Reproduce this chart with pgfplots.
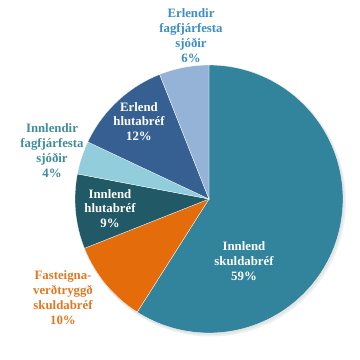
\documentclass[border=0pt]{standalone}
\usepackage{pgfplots}
\pgfplotsset{compat=1.18}
\usepackage{fontspec}
\setmainfont{Liberation Serif}
\definecolor{cA}{HTML}{31849B}
\definecolor{cB}{HTML}{E46C0A}
\definecolor{cC}{HTML}{215967}
\definecolor{cD}{HTML}{92CDDC}
\definecolor{cE}{HTML}{376092}
\definecolor{cF}{HTML}{95B3D7}
\definecolor{tF}{HTML}{3A8DC5}
\definecolor{tD}{HTML}{3F8C9A}
\definecolor{tB}{HTML}{E07820}
% slice: colour, cumulative percent before, percent
\newcommand{\slice}[3]{\fill[#1, draw=white, line width=0.3pt] (axis cs:209,161) -- ++({90-3.6*(#2)}:134pt) arc[start angle={90-3.6*(#2)}, delta angle={-3.6*(#3)}, radius=134pt] -- cycle;}
\begin{document}
\begin{tikzpicture}
\begin{axis}[
  scale only axis, width=360pt, height=360pt,
  xmin=0, xmax=360, ymin=0, ymax=360,
  hide axis, clip=false,
]
\fill[black!6] (axis cs:211,158.5) circle[radius=135pt];
\fill[black!10] (axis cs:210,159.5) circle[radius=134.5pt];
\slice{cA}{0}{59}
\slice{cB}{59}{10}
\slice{cC}{69}{9}
\slice{cD}{78}{4}
\slice{cE}{82}{12}
\slice{cF}{94}{6}
\begin{scope}[every node/.style={font=\fontsize{12.8}{14.8}\selectfont\bfseries, align=center, inner sep=0pt}]
\node[tF] at (axis cs:191,324.5) {Erlendir\\fagfjárfesta\\sjóðir\\6\%};
\node[white] at (axis cs:139,238.5) {Erlend\\hlutabréf\\12\%};
\node[tD] at (axis cs:52,209.5) {Innlendir\\fagfjárfesta\\sjóðir\\4\%};
\node[white] at (axis cs:110,151.5) {Innlend\\hlutabréf\\9\%};
\node[tB] at (axis cs:63,62.5) {Fasteigna-\\verðtryggð\\skuldabréf\\10\%};
\node[white] at (axis cs:244,99) {Innlend\\skuldabréf\\59\%};
\end{scope}
\end{axis}
\path (current axis.south west) rectangle (current axis.north east);
\end{tikzpicture}
\end{document}
